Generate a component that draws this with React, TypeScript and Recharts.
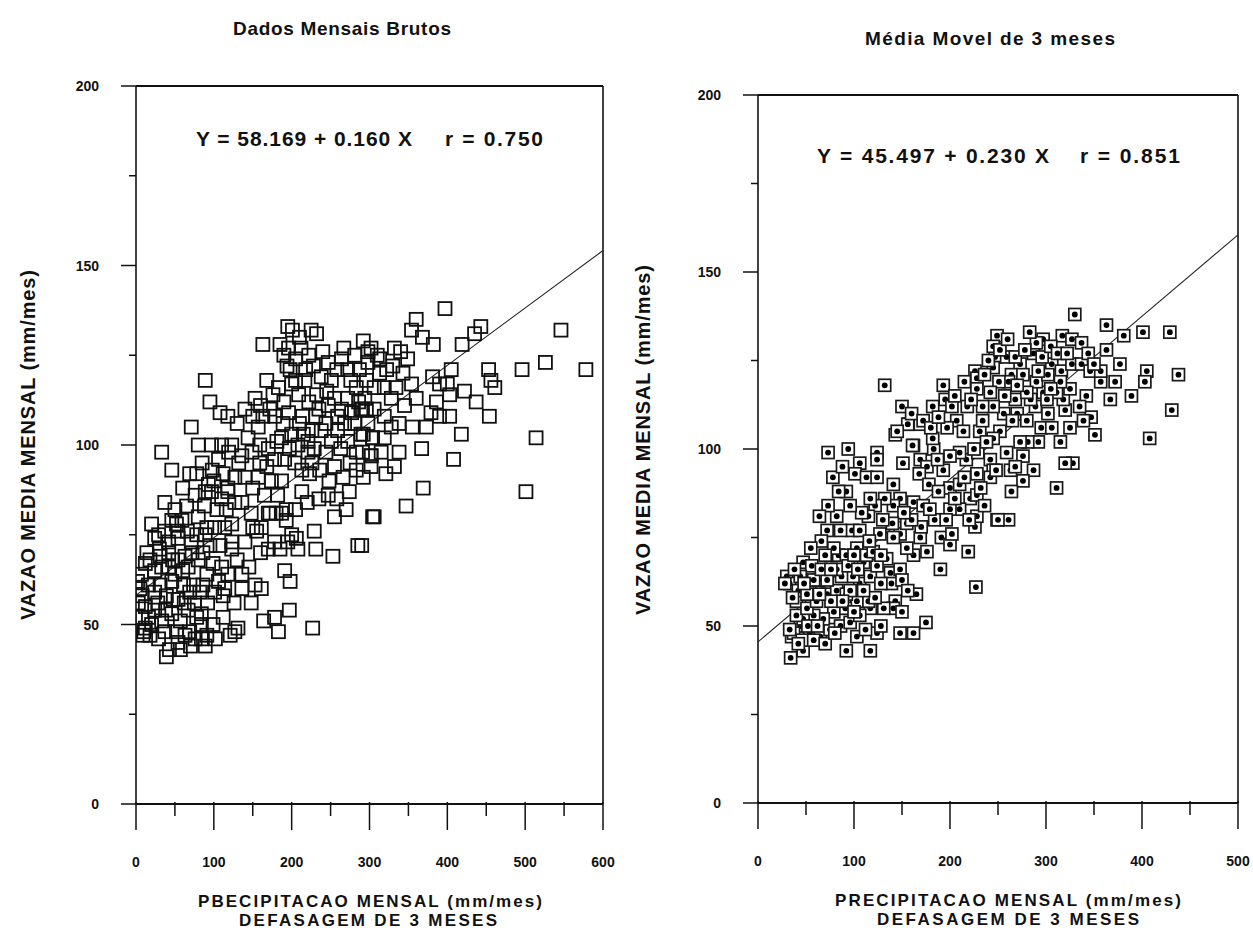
import React from 'react';
import { ScatterChart, Scatter, XAxis, YAxis, ReferenceLine } from 'recharts';

const FONT = '"Liberation Sans", Arial, Helvetica, sans-serif';
const INK = '#111';

// ---- left panel: raw monthly data (precipitation, lag 3 months -> mean flow)
const brutos: [number, number][] = [
  [397, 138], [360, 135], [354, 132], [368, 130], [382, 128], [443, 133], [435, 131], [419, 128],
  [453, 121], [456, 118], [461, 116], [405, 121], [422, 115], [437, 112], [454, 108], [418, 103],
  [408, 96], [367, 99], [369, 88], [347, 83], [306, 80], [290, 72], [514, 102], [501, 87],
  [578, 121], [546, 132], [526, 123], [496, 121],
  [302, 127], [313, 124], [332, 127], [349, 124], [330, 122], [343, 120], [313, 120], [296, 118],
  [306, 116], [319, 116], [334, 116], [354, 117], [328, 113], [345, 111], [360, 113], [296, 110],
  [306, 110], [319, 108], [338, 106], [355, 105], [373, 105], [304, 102], [319, 102], [291, 98],
  [302, 97], [321, 92], [332, 94], [338, 98], [381, 119], [390, 117], [400, 117], [386, 112],
  [403, 114], [379, 109], [390, 108], [403, 108], [291, 110], [292, 103], [302, 94],
  [195, 133], [201, 132], [210, 130], [225, 132], [232, 131], [163, 128], [89, 118], [95, 112],
  [108, 109], [153, 113], [140, 110], [172, 110], [71, 105], [33, 98], [46, 93], [80, 100],
  [97, 100], [110, 100], [123, 100], [69, 92], [78, 92], [93, 89], [97, 87], [89, 87],
  [118, 87], [127, 84], [37, 84], [50, 82], [65, 83], [46, 79], [59, 79], [91, 77],
  [101, 77], [114, 77], [29, 75], [42, 73], [54, 74], [71, 73], [86, 70], [123, 73],
  [123, 71], [140, 73], [150, 77], [155, 76], [172, 81], [180, 81], [193, 82], [178, 73],
  [185, 71], [195, 73], [208, 71], [170, 71], [229, 76], [231, 71], [253, 69], [285, 72],
  [255, 80], [270, 82], [247, 86], [274, 87], [255, 94], [266, 91], [283, 93], [302, 97],
  [304, 102], [304, 80], [259, 104], [272, 101], [289, 110], [298, 106], [281, 106], [264, 110],
  [255, 113], [238, 119], [251, 118], [264, 124], [281, 125], [298, 126], [298, 123], [272, 121],
  [222, 125], [205, 124], [198, 121], [200, 117], [209, 114], [222, 112], [235, 110], [231, 108],
  [214, 108], [196, 109], [189, 106], [178, 108], [163, 108], [157, 105], [144, 102], [159, 100],
  [170, 99], [178, 96], [191, 96], [197, 99], [208, 100], [221, 101], [229, 99], [204, 95],
  [213, 93], [223, 92], [213, 87], [187, 90], [174, 90], [157, 91], [140, 91], [127, 91],
  [118, 88], [110, 85], [136, 84], [123, 78], [148, 81], [161, 77], [170, 81], [187, 81],
  [193, 79], [200, 75], [206, 74], [191, 65], [198, 62], [153, 61], [161, 60], [136, 60],
  [136, 64], [148, 56], [164, 51], [178, 52], [183, 48], [197, 54], [227, 49], [127, 48],
  [131, 49], [121, 47],
  [7, 64], [18, 68], [31, 69], [42, 66], [54, 68], [67, 66], [80, 68], [91, 64],
  [99, 67], [106, 62], [114, 60], [101, 59], [112, 58], [92, 56], [84, 53], [99, 50],
  [91, 47], [89, 44], [76, 46], [63, 47], [54, 45], [43, 43], [39, 41], [29, 46],
  [18, 47], [12, 49], [16, 52], [12, 55], [24, 54], [33, 51], [46, 53], [57, 51],
  [67, 54], [78, 52], [24, 59], [39, 58], [54, 57], [69, 59], [82, 59], [16, 61],
  [31, 61], [46, 62], [61, 61], [74, 61], [24, 65], [50, 64], [63, 69], [42, 70],
  [78, 75], [89, 75], [54, 76], [37, 76], [24, 74], [12, 67], [5, 60], [10, 48],
  [37, 48], [52, 48], [69, 48], [84, 50], [9, 47], [3, 56], [8, 52], [2, 62],
  [194, 122], [205, 118], [217, 118], [232, 114], [245, 115], [247, 111], [259, 108], [272, 113],
  [283, 116], [294, 113], [238, 104], [251, 101], [289, 103], [283, 98], [187, 102], [200, 103],
  [215, 103], [221, 98], [181, 101], [149, 98], [136, 97], [119, 98], [106, 96], [85, 95],
  [98, 93], [159, 95], [168, 94],
  [185, 128], [190, 125], [196, 127], [212, 127], [218, 121], [228, 122], [240, 126], [247, 123],
  [258, 121], [267, 127], [276, 118], [287, 121], [292, 129], [310, 125], [322, 121], [340, 126],
  [286, 112], [277, 109], [268, 106], [244, 106], [226, 104], [210, 106], [190, 112], [183, 116],
  [176, 114], [168, 118], [160, 111], [150, 108], [130, 106], [118, 108], [226, 95], [236, 93],
  [244, 98], [263, 99], [275, 95], [292, 91], [315, 98], [328, 105], [248, 90], [258, 85],
  [235, 85], [220, 84], [205, 82], [182, 86], [165, 86], [150, 88], [132, 95], [112, 92],
  [100, 90], [88, 83], [76, 86], [60, 88], [52, 78], [66, 76], [80, 80], [104, 82],
  [116, 82], [20, 78], [14, 70], [33, 66], [47, 68], [60, 65], [72, 70], [95, 72],
  [108, 72], [110, 66], [118, 64], [130, 68], [145, 66], [160, 70], [28, 56], [48, 57],
  [62, 56], [75, 56], [86, 61], [20, 50], [57, 43], [70, 44], [84, 46], [102, 46],
  [112, 52], [126, 56], [38, 54], [8, 58], [30, 71],
];

// ---- right panel: 3-month moving average
const mediaMovel: [number, number][] = [
  [73, 99], [94, 100], [124, 99], [124, 97], [106, 96], [101, 93], [113, 92], [124, 92],
  [143, 104], [157, 107], [141, 90], [151, 96], [162, 101], [169, 97], [176, 95], [183, 100],
  [193, 94], [200, 89], [210, 90], [217, 97], [229, 99], [242, 97], [245, 94], [228, 93],
  [221, 86], [228, 87], [242, 92], [249, 80], [226, 78], [228, 81], [210, 83], [200, 83],
  [184, 80], [191, 75], [200, 73], [202, 76], [219, 71], [190, 66], [227, 61], [165, 59],
  [175, 51], [162, 48], [176, 71], [169, 75], [162, 70], [155, 72], [148, 76], [155, 79],
  [162, 85], [172, 84], [179, 83], [148, 86], [141, 84], [132, 86], [122, 84], [117, 86],
  [115, 81], [127, 76], [141, 75], [134, 69], [138, 65], [139, 62], [143, 57], [141, 55],
  [131, 55], [117, 55], [124, 48], [117, 43], [92, 43], [103, 47], [47, 43], [34, 41],
  [35, 47], [44, 50], [54, 48], [65, 47], [75, 49], [86, 50], [96, 51], [106, 53],
  [115, 57], [103, 57], [91, 55], [79, 54], [68, 52], [58, 53], [47, 52], [40, 53],
  [40, 57], [51, 55], [61, 57], [72, 59], [82, 60], [92, 59], [106, 62], [117, 64],
  [124, 67], [110, 68], [99, 64], [87, 64], [82, 66], [84, 70], [92, 70], [103, 72],
  [113, 70], [120, 71], [98, 77], [86, 77], [72, 77], [66, 74], [79, 72], [70, 70],
  [82, 81], [73, 84], [106, 77], [47, 68], [56, 67], [30, 64], [33, 62], [44, 64],
  [54, 62], [63, 63], [72, 63], [42, 60], [51, 59], [37, 48], [46, 46], [58, 46], [33, 49],
  [330, 138], [363, 135], [381, 132], [401, 133], [429, 133], [363, 128], [377, 124], [405, 122],
  [403, 119], [438, 121], [389, 115], [431, 111], [408, 103], [351, 104], [367, 114], [357, 119],
  [372, 119], [342, 115], [347, 109], [339, 108], [335, 112], [320, 111], [315, 102], [328, 96],
  [320, 96], [311, 89], [287, 94], [276, 91], [264, 88], [261, 80], [250, 80], [259, 99],
  [263, 94], [248, 94], [292, 102], [281, 102], [273, 102], [252, 105], [256, 110], [270, 110],
  [289, 112], [302, 110], [318, 114], [325, 117], [311, 116], [297, 116], [284, 114], [268, 114],
  [257, 115], [245, 112], [247, 126], [249, 132], [259, 126], [245, 123], [273, 124], [287, 127],
  [297, 131], [290, 130], [317, 132], [327, 131], [337, 130], [306, 124], [316, 122], [327, 124],
  [337, 124], [346, 122], [357, 122], [264, 121], [276, 121], [290, 119], [302, 121], [280, 116],
  [301, 114], [261, 119], [251, 119],
  [132, 118], [193, 118], [245, 129], [226, 122], [228, 120], [195, 114], [202, 112], [182, 112],
  [156, 107], [169, 107], [145, 105], [161, 101], [182, 103], [207, 108], [218, 112], [234, 112],
  [228, 117], [242, 116], [197, 106], [214, 105], [231, 105], [234, 108], [245, 103],
  [150, 112], [160, 110], [172, 108], [180, 106], [188, 109], [205, 115], [215, 119], [222, 114],
  [236, 121], [240, 125], [252, 128], [260, 131], [268, 126], [278, 128], [283, 133], [296, 126],
  [305, 129], [312, 127], [322, 127], [344, 127], [350, 124], [315, 119], [305, 117], [292, 122],
  [270, 118], [265, 108], [280, 108], [295, 106], [306, 106], [325, 106], [276, 98], [268, 95],
  [238, 102], [225, 100], [210, 99], [200, 98], [187, 97], [168, 93], [178, 90], [188, 88],
  [205, 86], [215, 92], [232, 89], [236, 84], [220, 80], [196, 80], [170, 78], [160, 80],
  [152, 82], [140, 79], [130, 80], [128, 70], [148, 66], [150, 63], [156, 60], [128, 62],
  [122, 58], [110, 60], [96, 60], [88, 57], [76, 57], [64, 59], [58, 63], [66, 66],
  [76, 66], [94, 67], [100, 70], [104, 66], [116, 74], [108, 82], [96, 84], [92, 88],
  [84, 88], [78, 92], [88, 95], [64, 81], [55, 72], [48, 62], [38, 66], [52, 50],
  [62, 50], [70, 45], [80, 48], [100, 54], [112, 49], [128, 50], [150, 54], [148, 48],
  [42, 45], [28, 62], [36, 58],
];

const brutosFit = { a: 58.169, b: 0.16, r: 0.75 };
const movelFit = { a: 45.497, b: 0.23, r: 0.851 };

const brutosXTicks = [0, 50, 100, 150, 200, 250, 300, 350, 400, 450, 500, 550, 600];
const movelXTicks = [0, 50, 100, 150, 200, 250, 300, 350, 400, 450, 500];
const yTicks = [0, 25, 50, 75, 100, 125, 150, 175, 200];

const toPoints = (pairs: [number, number][]) => pairs.map(([x, y]) => ({ x, y }));

const XTick = (props: any) => {
  const { x, y, payload } = props;
  const major = payload.value % 100 === 0;
  return (
    <g>
      <line x1={x} y1={y - 2} x2={x} y2={y + (major ? 26 : 12)} stroke={INK} strokeWidth={1.5} />
      {major && (
        <text x={x} y={y + 58} textAnchor="middle" dominantBaseline="central"
          fontFamily={FONT} fontWeight="bold" fontSize={14} fill={INK}>
          {payload.value}
        </text>
      )}
    </g>
  );
};

const YTick = (props: any) => {
  const { x, y, payload } = props;
  const major = payload.value % 50 === 0;
  return (
    <g>
      <line x1={x} y1={y} x2={x - (major ? 15 : 7)} y2={y} stroke={INK} strokeWidth={1.5} />
      {major && (
        <text x={x - 37} y={y} textAnchor="end" dominantBaseline="central"
          fontFamily={FONT} fontWeight="bold" fontSize={14} fill={INK}>
          {payload.value}
        </text>
      )}
    </g>
  );
};

const OpenSquare = (props: any) => {
  const { cx, cy } = props;
  return <rect x={cx - 6.5} y={cy - 6.5} width={13} height={13} fill="none" stroke={INK} strokeWidth={1.8} />;
};

const DotSquare = (props: any) => {
  const { cx, cy } = props;
  return (
    <g>
      <rect x={cx - 6} y={cy - 6} width={12} height={12} fill="#fff" stroke="#1a1a1a" strokeWidth={1.7} />
      <circle cx={cx} cy={cy} r={2.9} fill="#000" />
    </g>
  );
};

interface PanelProps {
  data: [number, number][];
  xMax: number;
  xTicks: number[];
  fit: { a: number; b: number };
  width: number;
  margin: { top: number; right: number; bottom: number; left: number };
  shape: (p: any) => React.ReactElement;
}

function Panel({ data, xMax, xTicks, fit, width, margin, shape }: PanelProps) {
  return (
    <ScatterChart width={width} height={932} margin={margin}>
      <XAxis type="number" dataKey="x" domain={[0, xMax]} ticks={xTicks} interval={0}
        height={60} tickSize={0} tickMargin={0} tickLine={false} tick={XTick}
        axisLine={{ stroke: INK, strokeWidth: 1.8 }} allowDataOverflow />
      <YAxis type="number" dataKey="y" domain={[0, 200]} ticks={yTicks} interval={0}
        width={60} tickSize={0} tickMargin={0} tickLine={false} tick={YTick}
        axisLine={{ stroke: INK, strokeWidth: 1.6 }} allowDataOverflow />
      <ReferenceLine y={200} stroke={INK} strokeWidth={1.9} />
      <ReferenceLine x={xMax} stroke={INK} strokeWidth={1.6} />
      <Scatter data={toPoints(data)} shape={shape} isAnimationActive={false} />
      <ReferenceLine segment={[{ x: 0, y: fit.a }, { x: xMax, y: fit.a + fit.b * xMax }]}
        stroke="#222" strokeWidth={1.1} />
    </ScatterChart>
  );
}

const txt = { fontFamily: FONT, fontWeight: 'bold' as const, fill: INK };

export default function App() {
  return (
    <div style={{ position: 'absolute', left: 0, top: 0, width: 1253, height: 932, background: '#fff', overflow: 'hidden' }}>
      <div style={{ position: 'absolute', left: 0, top: 0 }}>
        <Panel data={brutos} xMax={600} xTicks={brutosXTicks} fit={brutosFit} width={640}
          margin={{ top: 86, right: 37, bottom: 68, left: 76 }} shape={OpenSquare} />
      </div>
      <div style={{ position: 'absolute', left: 640, top: 0 }}>
        <Panel data={mediaMovel} xMax={500} xTicks={movelXTicks} fit={movelFit} width={613}
          margin={{ top: 95, right: 15, bottom: 69, left: 58 }} shape={DotSquare} />
      </div>
      <svg width={1253} height={932} style={{ position: 'absolute', left: 0, top: 0, pointerEvents: 'none' }}>
        {/* left panel texts */}
        <text x={342} y={28} textAnchor="middle" dominantBaseline="central" fontSize={19} textLength={218} {...txt}>
          Dados Mensais Brutos
        </text>
        <text x={196} y={138} dominantBaseline="central" fontSize={21} textLength={216} {...txt}>
          {`Y = ${brutosFit.a.toFixed(3)} + ${brutosFit.b.toFixed(3)} X`}
        </text>
        <text x={445} y={138} dominantBaseline="central" fontSize={21} textLength={98} {...txt}>
          {`r = ${brutosFit.r.toFixed(3)}`}
        </text>
        <text transform="translate(28,445) rotate(-90)" textAnchor="middle" dominantBaseline="central"
          fontSize={20} textLength={350} {...txt}>
          VAZAO MEDIA MENSAL (mm/mes)
        </text>
        <text x={370} y={901} textAnchor="middle" dominantBaseline="central" fontSize={17} textLength={344} {...txt}>
          PBECIPITACAO MENSAL (mm/mes)
        </text>
        <text x={368} y={920} textAnchor="middle" dominantBaseline="central" fontSize={17} textLength={258} {...txt}>
          DEFASAGEM DE 3 MESES
        </text>

        {/* right panel texts */}
        <text x={990} y={38} textAnchor="middle" dominantBaseline="central" fontSize={19} textLength={250} {...txt}>
          Média Movel de 3 meses
        </text>
        <text x={817} y={155} dominantBaseline="central" fontSize={21} textLength={232} {...txt}>
          {`Y = ${movelFit.a.toFixed(3)} + ${movelFit.b.toFixed(3)} X`}
        </text>
        <text x={1080} y={155} dominantBaseline="central" fontSize={21} textLength={100} {...txt}>
          {`r = ${movelFit.r.toFixed(3)}`}
        </text>
        <text transform="translate(643,440) rotate(-90)" textAnchor="middle" dominantBaseline="central"
          fontSize={20} textLength={350} {...txt}>
          VAZAO MEDIA MENSAL (mm/mes)
        </text>
        <text x={1008} y={900} textAnchor="middle" dominantBaseline="central" fontSize={17} textLength={346} {...txt}>
          PRECIPITACAO MENSAL (mm/mes)
        </text>
        <text x={1008} y={919} textAnchor="middle" dominantBaseline="central" fontSize={17} textLength={262} {...txt}>
          DEFASAGEM DE 3 MESES
        </text>
      </svg>
    </div>
  );
}
